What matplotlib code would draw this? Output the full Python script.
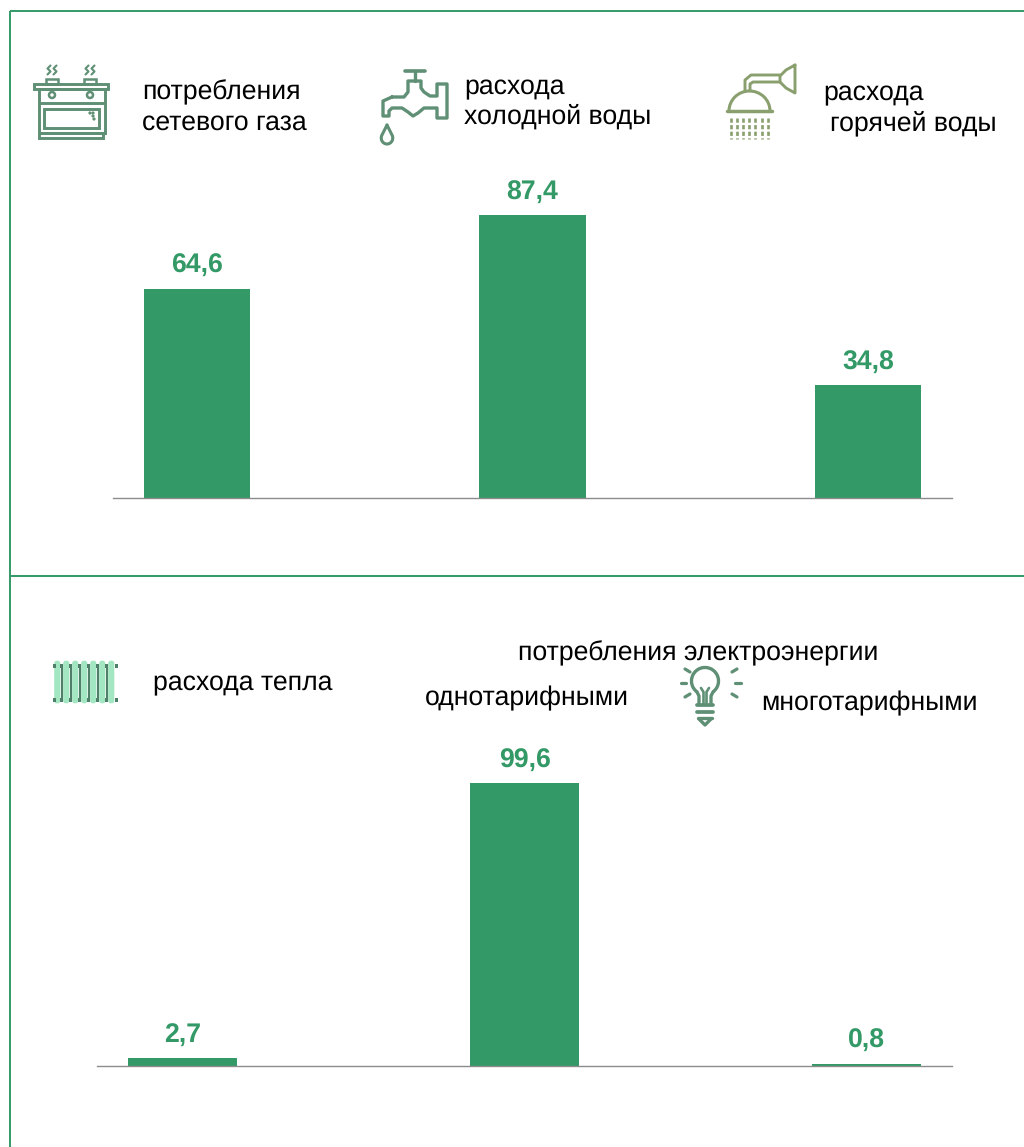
import matplotlib
matplotlib.use('Agg')
import matplotlib.pyplot as plt
from matplotlib.patches import Circle, Rectangle, FancyBboxPatch, Arc
plt.rcParams['font.family'] = ['Liberation Sans', 'DejaVu Sans']
plt.rcParams['text.hinting'] = 'none'

# data
top_values = [64.6, 87.4, 34.8]
bottom_values = [2.7, 99.6, 0.8]

GREEN = '#339966'
ICON = '#5f8f75'
OLIVE = '#8a9f6e'
W, H = 1024, 1147

fig = plt.figure(figsize=(W / 100, H / 100), dpi=100)

# overlay in pixels, for frame, captions and icons
bg = fig.add_axes([0, 0, 1, 1])
bg.set_xlim(0, W)
bg.set_ylim(H, 0)
bg.axis('off')


def bars(left, right, base, height, values, width):
    ax = fig.add_axes([left / W, 1 - base / H, (right - left) / W, height / H])
    ax.patch.set_alpha(0)
    ax.bar(range(len(values)), values, width=width, color=GREEN)
    ax.set_xlim(-0.25, 2.25)
    ax.set_ylim(0, 100)
    for s in ['top', 'left', 'right']:
        ax.spines[s].set_visible(False)
    ax.spines['bottom'].set_color('#8c8c8c')
    ax.spines['bottom'].set_linewidth(1.0)
    ax.set_xticks([])
    ax.set_yticks([])
    for i, v in enumerate(values):
        ax.annotate(str(v).replace('.', ','), (i, v), xytext=(0, 11.3), textcoords='offset points',
                    ha='center', va='baseline', color=GREEN, fontsize=19.2, fontweight='bold')
    return ax


bars(113, 952, 497.5, 323.2, top_values, 0.318)
bars(97, 952, 1066, 284.1, bottom_values, 0.319)

# frame
bg.plot([10, 10], [1147, 11], color=GREEN, lw=1.4, solid_capstyle='butt')
bg.plot([10, 1024], [11, 11], color=GREEN, lw=1.4, solid_capstyle='butt')
bg.plot([10, 1024], [576, 576], color=GREEN, lw=1.4, solid_capstyle='butt')

# captions
captions = [
    (142, 99, 'потребления'), (142, 130, 'сетевого газа'),
    (464, 94, 'расхода'), (464, 124, 'холодной воды'),
    (823, 100, 'расхода'), (830, 130, 'горячей воды'),
    (153, 690, 'расхода тепла'),
    (518, 660, 'потребления электроэнергии'),
    (425, 705, 'однотарифными'), (761, 710, 'многотарифными'),
]
for x, y, s in captions:
    bg.text(x, y, s, fontsize=19.2, color='black', va='baseline', ha='left')


def line(xs, ys, color=ICON, lw=2.1, **kw):
    bg.plot(xs, ys, color=color, lw=lw, solid_capstyle='round', solid_joinstyle='round', **kw)


def box(x0, y0, x1, y1, color=ICON, lw=2.1):
    bg.add_patch(Rectangle((x0, y0), x1 - x0, y1 - y0, fill=False, ec=color, lw=lw))


# stove icon
box(34, 84, 108, 88.5)
box(38.5, 88.5, 104.5, 133)
line([38.5, 104.5], [103, 103])
box(44, 109, 99, 128)
box(39, 133, 103, 137.5)
for cx in (52, 90):
    bg.add_patch(Circle((cx, 95), 3, fill=False, ec=ICON, lw=1.8))
    box(cx - 6, 79, cx + 6, 84, lw=1.8)
    for dx in (-3, 3):
        line([cx + dx + 1.5, cx + dx - 1.5, cx + dx + 1.5, cx + dx - 1.5],
             [65.5, 68.5, 71.5, 74.5], lw=1.5)
for px, py in [(90, 113), (93, 113), (93, 116), (94, 119)]:
    bg.add_patch(Circle((px, py), 0.9, color=ICON))

# faucet icon
line([405, 425], [71, 71], lw=2.6)
line([415, 415], [71, 81], lw=2.4)
body_x = [392, 383, 383, 389, 389, 392, 402, 408, 413, 418, 424, 437, 437, 447, 447, 437, 437, 430, 424, 421, 421, 408,
          408, 404, 392]
body_y = [97, 101, 116, 116, 111, 108, 108, 112, 116, 113, 108, 108, 118, 118, 84, 84, 96, 96, 92, 88, 81, 81,
          92, 97, 97]
line(body_x, body_y, lw=2.4)
line([387, 381.5], [125, 136], lw=2.2)
line([387, 392.5], [125, 136], lw=2.2)
bg.add_patch(Arc((387, 138), 11.5, 12, theta1=340, theta2=200, ec=ICON, lw=2.2))

# shower icon
line([727, 772], [111, 111], color=OLIVE, lw=2.5)
bg.add_patch(Arc((749.5, 111), 41, 40, theta1=180, theta2=360, ec=OLIVE, lw=2.2))
line([745, 745, 751, 780], [91, 80, 75, 75], color=OLIVE)
line([750, 750, 753, 780], [91, 84, 82, 82], color=OLIVE)
line([795, 786, 780, 780, 786, 795, 795], [65, 70, 76, 82, 88, 93, 65], color=OLIVE)
for dx in (731, 737, 743, 749, 755, 762, 768):
    bg.plot([dx, dx], [118, 139], color=OLIVE, lw=1.9, dashes=(1.6, 0.9))

# radiator icon
for rx in (57, 66, 75, 84, 93, 102, 111):
    bg.add_patch(FancyBboxPatch((rx - 2.5, 661), 5.5, 42, boxstyle='round,pad=0.3,rounding_size=2.5',
                                fc='#a3e6c2', ec='none'))
for rx in (61.5, 70.5, 79.5, 88.5, 97.5, 106.5):
    bg.plot([rx, rx], [664, 701], color='#4f7f68', lw=1.5, solid_capstyle='butt')
for ry in (665.5, 699.5):
    for rx in (54, 61.5, 70.5, 79.5, 88.5, 97.5, 106.5, 116):
        bg.add_patch(Rectangle((rx - 1.5, ry - 2), 3, 4, color='#4f7f68', lw=0))

# bulb icon
bg.add_patch(Arc((705, 681), 27, 27, theta1=125, theta2=55, ec=ICON, lw=2.4))
line([697, 699, 699], [692, 696, 703], lw=2.4)
line([713, 711, 711], [692, 696, 703], lw=2.4)
line([701, 703.5, 703.5], [688, 692, 703], lw=1.9)
line([709, 706.5, 706.5], [688, 692, 703], lw=1.9)
line([697, 713], [705, 705], lw=2.7)
line([697, 713], [712, 712], lw=2.7)
line([698, 712], [718, 718], lw=2.4)
line([699, 705, 711], [719, 725, 719], lw=2.4)
rays = [(681, 683, 686, 683), (735, 683, 741, 683), (685, 669, 690, 672),
        (732, 672, 737, 669), (685, 697, 690, 694), (732, 694, 737, 697)]
for x0, y0, x1, y1 in rays:
    line([x0, x1], [y0, y1], lw=2.3)

fig.savefig('out.png', dpi=100)
